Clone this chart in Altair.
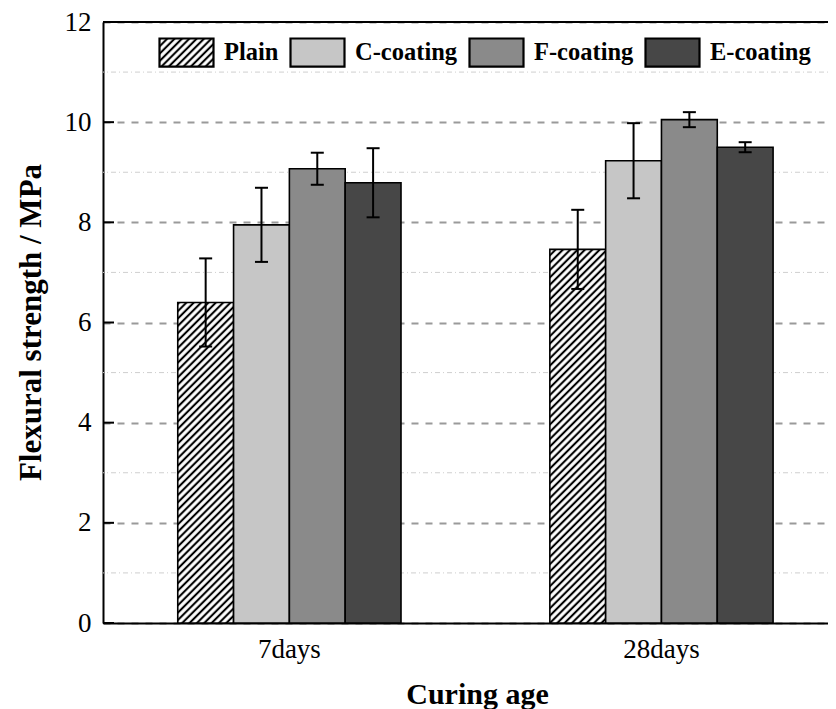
import altair as alt
import pandas as pd
import jinja2

ages = ["7days", "28days"]
coatings = ["Plain", "C-coating", "F-coating", "E-coating"]
strength_7 = [6.40, 7.95, 9.07, 8.79]
strength_28 = [7.46, 9.23, 10.05, 9.50]
err_7 = [0.88, 0.74, 0.32, 0.69]
err_28 = [0.79, 0.75, 0.15, 0.10]
major_ticks = [0, 2, 4, 6, 8, 10, 12]
minor_grid = [1, 3, 5, 7, 9, 11]
fills = ["url(#hatch)", "#c6c6c6", "#8a8a8a", "#474747"]

rows = []
for age, vals, errs in [(ages[0], strength_7, err_7), (ages[1], strength_28, err_28)]:
    for c, v, e in zip(coatings, vals, errs):
        rows.append({"age": age, "coating": c, "v": v, "lo": v - e, "hi": v + e})
df = pd.DataFrame(rows)
ticks_df = pd.DataFrame({"t": major_ticks})
minor_df = pd.DataFrame({"t": minor_grid})

FONT = "Liberation Serif"
W, H = 733, 601

x_enc = alt.X("age:N", sort=ages,
              scale=alt.Scale(paddingInner=0.4, paddingOuter=0.185, align=0.543),
              axis=alt.Axis(title="Curing age", labelAngle=0, ticks=False,
                            labelFont=FONT, labelFontSize=27, labelColor="black",
                            labelPadding=13, domainColor="black", domainWidth=2,
                            titleFont=FONT, titleFontSize=30, titleFontWeight="bold",
                            titleColor="black", titleX=374, titleY=80,
                            titleBaseline="alphabetic", titleAnchor="middle"))
xo = alt.XOffset("coating:N", sort=coatings, scale=alt.Scale(paddingInner=0, paddingOuter=0))
y_scale = alt.Scale(domain=[0, 12], nice=False)

bars = alt.Chart(df).mark_bar(stroke="black", strokeWidth=1.6, opacity=1).encode(
    x=x_enc,
    xOffset=xo,
    y=alt.Y("v:Q", scale=y_scale,
            axis=alt.Axis(title="Flexural strength / MPa", values=major_ticks, ticks=False,
                          labelFont=FONT, labelFontSize=27, labelColor="black", labelPadding=12,
                          domainColor="black", domainWidth=2,
                          grid=True, gridColor="#9a9a9a", gridWidth=2, gridDash=[7, 7],
                          titleFont=FONT, titleFontSize=31, titleFontWeight="bold",
                          titleColor="black", titleX=-72, titleY=300, titleAngle=-90,
                          titleBaseline="middle", titleAnchor="middle")),
    fill=alt.Fill("coating:N", sort=coatings,
                  scale=alt.Scale(domain=coatings, range=fills),
                  legend=alt.Legend(title=None, orient="none", direction="horizontal",
                                    legendX=55, legendY=2, columns=4,
                                    symbolType="M-1,-0.52H1V0.52H-1Z", symbolSize=2916,
                                    symbolStrokeColor="black", symbolStrokeWidth=2.2,
                                    symbolOpacity=1,
                                    labelFont=FONT, labelFontSize=24.5, labelFontWeight="bold",
                                    labelColor="black", labelOffset=9, columnPadding=7,
                                    padding=0)),
)

minor = alt.Chart(minor_df).mark_rule(color="#cfcfcf", strokeWidth=1, strokeDash=[5, 3, 1, 3]).encode(
    y=alt.Y("t:Q", scale=y_scale)
)

stems = alt.Chart(df).mark_rule(color="black", strokeWidth=2).encode(
    x=alt.X("age:N", sort=ages), xOffset=xo, y="lo:Q", y2="hi:Q"
)
cap_hi = alt.Chart(df).mark_tick(color="black", thickness=2, size=13, opacity=1).encode(
    x=alt.X("age:N", sort=ages), xOffset=xo, y="hi:Q"
)
cap_lo = alt.Chart(df).mark_tick(color="black", thickness=2, size=13, opacity=1).encode(
    x=alt.X("age:N", sort=ages), xOffset=xo, y="lo:Q"
)

tick_marks = alt.Chart(ticks_df).mark_rule(color="black", strokeWidth=2).encode(
    y=alt.Y("t:Q", scale=y_scale), x=alt.value(0), x2=alt.value(11)
)
top_border = alt.Chart(ticks_df).mark_rule(color="black", strokeWidth=2).encode(
    y=alt.datum(12), x=alt.value(0), x2=alt.value(W)
)

chart = alt.layer(minor, bars, stems, cap_hi, cap_lo, tick_marks, top_border).properties(
    width=W, height=H,
    autosize="none",
    padding={"left": 95, "top": 14, "right": 0, "bottom": 86},
    background="white",
).configure_view(stroke=None)

TEMPLATE = jinja2.Template("""<!DOCTYPE html>
<html>
<head>
<meta charset="utf-8">
<style>body{margin:8px;overflow:hidden;background:white;}</style>
<script type="text/javascript" src="{{ base_url }}/vega@{{ vega_version }}"></script>
<script type="text/javascript" src="{{ base_url }}/vega-lite@{{ vegalite_version }}"></script>
<script type="text/javascript" src="{{ base_url }}/vega-embed@{{ vegaembed_version }}"></script>
</head>
<body>
<svg width="0" height="0" style="position:absolute;left:0;top:0" aria-hidden="true">
<defs>
<pattern id="hatch" patternUnits="userSpaceOnUse" width="5.2" height="5.2" patternTransform="rotate(45)">
<rect x="0" y="0" width="5.2" height="5.2" fill="white"/>
<line x1="2.6" y1="-1" x2="2.6" y2="6.2" stroke="black" stroke-width="2.1"/>
</pattern>
</defs>
</svg>
<div id="{{ output_div }}"></div>
<script type="text/javascript">
  var spec = {{ spec }};
  var embedOpt = {{ embed_options }};
  vegaEmbed("#{{ output_div }}", spec, embedOpt).catch(function(err) {
    document.getElementById("{{ output_div }}").innerHTML =
      '<div style="color:red;">' + err.message + '</div>';
  });
</script>
</body>
</html>
""")

chart.save("out.html", embed_options={"renderer": "svg", "actions": False}, template=TEMPLATE)
